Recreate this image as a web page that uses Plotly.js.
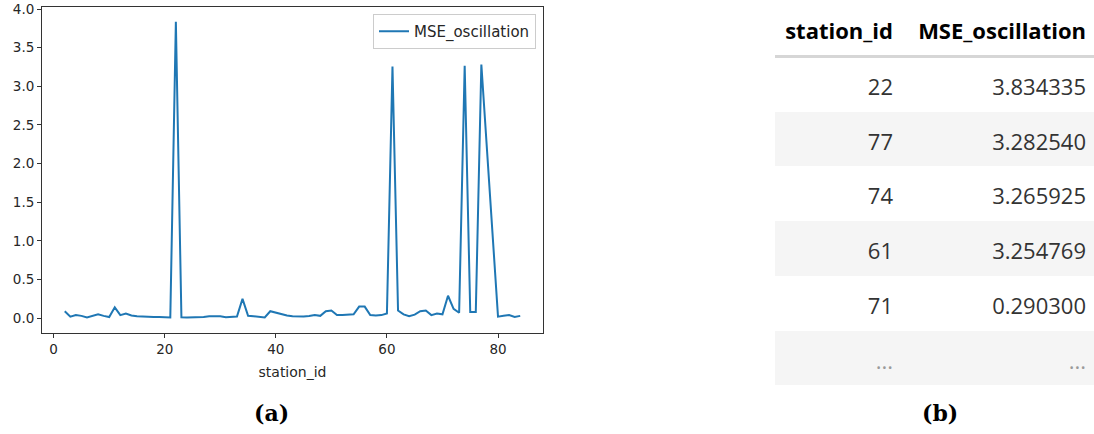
<!DOCTYPE html>
<html>
<head>
<meta charset="utf-8">
<script src="https://cdn.plot.ly/plotly-3.0.1.min.js"></script>
<style>
  html, body { margin: 0; padding: 0; background: #ffffff; }
  #chart { width: 1094px; height: 434px; }
</style>
</head>
<body>
<div id="chart"></div>
<script>
// ---- line chart data ----
const stationIds = [2,3,4,5,6,7,8,9,10,11,12,13,14,15,16,17,18,19,20,21,22,23,24,25,26,27,28,29,30,31,32,33,34,35,36,37,38,39,40,41,42,43,44,45,46,47,48,49,50,51,52,53,54,55,56,57,58,59,60,61,62,63,64,65,66,67,68,69,70,71,72,73,74,75,76,77,80,81,82,83,84];
const mseOscillation = [0.09,0.02,0.04,0.03,0.01,0.03,0.05,0.03,0.015,0.14,0.04,0.06,0.035,0.025,0.02,0.02,0.015,0.015,0.012,0.01,3.834335,0.012,0.008,0.008,0.01,0.015,0.025,0.025,0.025,0.012,0.02,0.022,0.25,0.03,0.025,0.02,0.01,0.09,0.07,0.05,0.035,0.025,0.022,0.022,0.028,0.04,0.03,0.09,0.1,0.04,0.04,0.045,0.05,0.15,0.15,0.04,0.035,0.04,0.06,3.254769,0.1,0.05,0.025,0.045,0.09,0.1,0.04,0.06,0.05,0.2903,0.12,0.07,3.265925,0.08,0.08,3.28254,0.02,0.03,0.04,0.015,0.03];

// ---- table data ----
const tableHeader = ['station_id', 'MSE_oscillation'];
const topStationIds = ['22', '77', '74', '61', '71', '...'];
const topMseValues = ['3.834335', '3.282540', '3.265925', '3.254769', '0.290300', '...'];

// ---- captions ----
const captionA = '(a)';
const captionB = '(b)';

const W = 1094, H = 434;
const px = v => v / W;
const py = v => (H - v) / H;

const rowFills = topStationIds.map((_, i) => (i % 2 === 1 ? '#f5f5f5' : '#ffffff'));
const rowColors = topStationIds.map(v => (v === '...' ? '#9a9a9a' : '#333333'));
const clear = 'rgba(0,0,0,0)';
const tableFontFamily = 'Open Sans, Noto Sans, sans-serif';

const lineTrace = {
  type: 'scatter',
  mode: 'lines',
  x: stationIds,
  y: mseOscillation,
  name: 'MSE_oscillation',
  line: { color: '#1f77b4', width: 2 },
  xaxis: 'x', yaxis: 'y',
  showlegend: true
};

// background table: row striping
const tableBackground = {
  type: 'table',
  domain: { x: [px(775), 1], y: [py(386), py(5)] },
  columnwidth: [126, 193],
  header: {
    values: tableHeader.map(() => ''),
    height: 52,
    fill: { color: '#ffffff' },
    line: { width: 0, color: '#ffffff' }
  },
  cells: {
    values: [topStationIds.map(() => ''), topMseValues.map(() => '')],
    height: 54.7,
    fill: { color: [rowFills, rowFills] },
    line: { width: 0, color: [rowFills, rowFills] }
  }
};

// text table: values, vertically centred over the stripes
const tableText = {
  type: 'table',
  domain: { x: [px(775), 1], y: [0, py(6.5)] },
  columnwidth: [126, 193],
  header: {
    values: tableHeader.map(t => '<b>' + t + '</b>'),
    align: 'right',
    height: 64,
    fill: { color: clear },
    line: { width: 0, color: clear },
    font: { family: tableFontFamily, size: 22, color: '#000000' }
  },
  cells: {
    values: [topStationIds, topMseValues],
    align: 'right',
    height: 54.7,
    fill: { color: clear },
    line: { width: 0, color: clear },
    font: { family: tableFontFamily, size: 22, color: [rowColors, rowColors] }
  }
};

const axisFont = { family: 'DejaVu Sans, sans-serif', size: 13.5, color: '#262626' };

const layout = {
  width: W, height: H,
  margin: { l: 0, r: 0, t: 0, b: 0 },
  paper_bgcolor: '#ffffff',
  plot_bgcolor: '#ffffff',
  showlegend: true,
  xaxis: {
    domain: [px(42), px(543)],
    range: [-2.1, 88.1],
    tickvals: [0, 20, 40, 60, 80],
    ticks: 'outside', ticklen: 4, tickwidth: 1, tickcolor: '#333333',
    showline: true, linecolor: '#333333', linewidth: 1, mirror: true,
    showgrid: false, zeroline: false,
    tickfont: axisFont,
    title: { text: 'station_id', font: { family: 'DejaVu Sans, sans-serif', size: 14, color: '#262626' }, standoff: 10 },
    anchor: 'y'
  },
  yaxis: {
    domain: [py(333), py(7)],
    range: [-0.1917, 4.0260],
    tickvals: [0, 0.5, 1, 1.5, 2, 2.5, 3, 3.5, 4],
    ticktext: ['0.0', '0.5', '1.0', '1.5', '2.0', '2.5', '3.0', '3.5', '4.0'],
    ticks: 'outside', ticklen: 4, tickwidth: 1, tickcolor: '#333333',
    showline: true, linecolor: '#333333', linewidth: 1, mirror: true,
    showgrid: false, zeroline: false,
    tickfont: axisFont,
    anchor: 'x'
  },
  legend: {
    x: px(536), xanchor: 'right',
    y: py(14), yanchor: 'top',
    bgcolor: '#ffffff',
    bordercolor: '#cccccc', borderwidth: 1,
    font: { family: 'DejaVu Sans, sans-serif', size: 15, color: '#262626' }
  },
  shapes: [
    {
      type: 'line', xref: 'paper', yref: 'paper',
      x0: px(775), x1: 1, y0: py(56.5), y1: py(56.5),
      line: { color: '#d6d6d6', width: 3 }
    }
  ],
  annotations: [
    {
      text: '<b>' + captionA + '</b>', xref: 'paper', yref: 'paper',
      x: px(271), y: py(413), xanchor: 'center', yanchor: 'middle', showarrow: false,
      font: { family: 'DejaVu Serif, Liberation Serif, serif', size: 22, color: '#000000' }
    },
    {
      text: '<b>' + captionB + '</b>', xref: 'paper', yref: 'paper',
      x: px(940), y: py(413), xanchor: 'center', yanchor: 'middle', showarrow: false,
      font: { family: 'DejaVu Serif, Liberation Serif, serif', size: 22, color: '#000000' }
    }
  ]
};

Plotly.newPlot('chart', [lineTrace, tableBackground, tableText], layout, { displayModeBar: false, staticPlot: true });
</script>
</body>
</html>
